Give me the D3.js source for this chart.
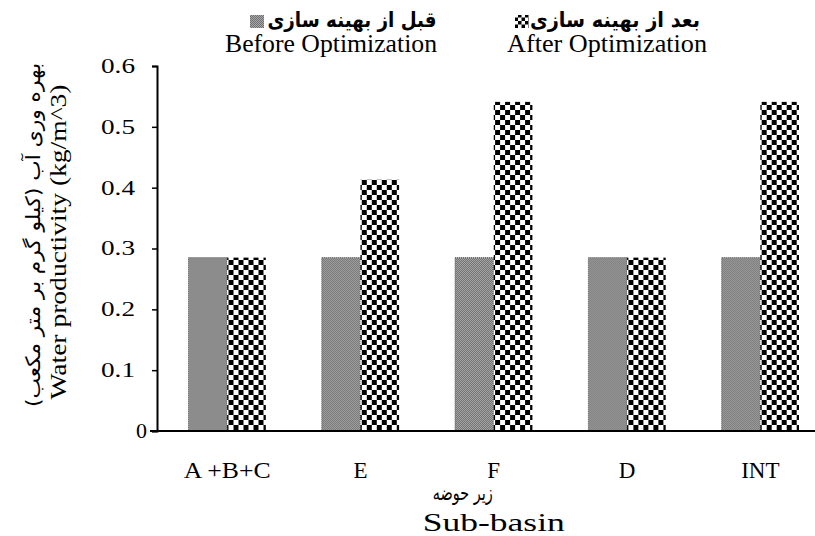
<!DOCTYPE html>
<html>
<head>
<meta charset="utf-8">
<script src="https://cdn.jsdelivr.net/npm/d3@7"></script>
<style>
  body { margin: 0; background: #fff; }
</style>
</head>
<body>
<div id="chart"></div>
<script>
const categories = ['A +B+C', 'E', 'F', 'D', 'INT'];
const beforeValues = [0.285, 0.285, 0.285, 0.285, 0.285];
const afterValues = [0.285, 0.413, 0.541, 0.285, 0.541];
const yTicks = [0, 0.1, 0.2, 0.3, 0.4, 0.5, 0.6];
const seriesNames = ['before', 'after'];

const width = 815;
const height = 536;
const SERIF = '"Liberation Serif", "Times New Roman", serif';
const FA = '"DejaVu Sans", sans-serif';

const svg = d3.select('#chart')
    .append('svg')
        .attr('width', width)
        .attr('height', height);

// fill patterns
const defs = svg.append('defs');
const grey = defs.append('pattern')
    .attr('id', 'greyFill')
    .attr('patternUnits', 'userSpaceOnUse')
    .attr('width', 2).attr('height', 2);
grey.append('rect').attr('width', 2).attr('height', 2).attr('fill', '#a8a8a8');
grey.append('rect').attr('width', 1).attr('height', 1).attr('fill', '#707070');
grey.append('rect').attr('x', 1).attr('y', 1).attr('width', 1).attr('height', 1).attr('fill', '#707070');

function checkerPattern(id, cell) {
    const p = defs.append('pattern')
        .attr('id', id)
        .attr('patternUnits', 'userSpaceOnUse')
        .attr('width', cell * 2).attr('height', cell * 2);
    p.append('rect').attr('width', cell * 2).attr('height', cell * 2).attr('fill', '#fff');
    p.append('rect').attr('width', cell).attr('height', cell).attr('fill', '#000');
    p.append('rect').attr('x', cell).attr('y', cell).attr('width', cell).attr('height', cell).attr('fill', '#000');
}
checkerPattern('checkFill', 5);
checkerPattern('checkSmall', 3.5);

const x = d3.scaleBand()
    .domain(categories)
    .range([160.5, 827])
    .paddingInner(0.42)
    .paddingOuter(0.21);

const xSub = d3.scaleBand()
    .domain(seriesNames)
    .range([0, x.bandwidth()]);

const y = d3.scaleLinear()
    .domain([0, 0.6])
    .range([431, 66]);

const fills = { before: 'url(#greyFill)', after: 'url(#checkFill)' };

const rows = categories.map((c, i) => ({
    cat: c,
    vals: [
        { key: 'before', v: beforeValues[i] },
        { key: 'after', v: afterValues[i] }
    ]
}));

const groups = svg.selectAll('g.grp')
    .data(rows)
    .enter()
    .append('g')
        .attr('class', 'grp')
        .attr('transform', d => `translate(${x(d.cat)},0)`);

groups.selectAll('rect')
    .data(d => d.vals)
    .enter()
    .append('rect')
        .attr('x', d => xSub(d.key))
        .attr('y', d => y(d.v))
        .attr('width', xSub.bandwidth())
        .attr('height', d => y(0) - y(d.v))
        .attr('fill', d => fills[d.key])
        .attr('stroke', d => d.key === 'before' ? '#555' : 'none')
        .attr('stroke-width', 1)
        .attr('stroke-dasharray', '1,1');

// y axis
const yAxis = d3.axisLeft(y)
    .tickValues(yTicks)
    .tickSize(5)
    .tickPadding(17)
    .tickFormat(d => d === 0 ? '0' : d3.format('.1f')(d));

const gy = svg.append('g')
    .attr('transform', 'translate(157,0)')
    .call(yAxis);
gy.select('.domain').attr('stroke', '#000').attr('stroke-width', 2);
gy.selectAll('.tick line').attr('stroke', '#000').attr('stroke-width', 1.5);
gy.selectAll('.tick text')
    .style('font-family', SERIF)
    .style('font-size', '20px')
    .attr('fill', '#000')
    .attr('dx', d => d === 0 ? 12 : 0)
    .attr('textLength', d => d === 0 ? 11 : 34)
    .attr('lengthAdjust', 'spacingAndGlyphs');

// x axis line
svg.append('line')
    .attr('x1', 150).attr('x2', width)
    .attr('y1', y(0)).attr('y2', y(0))
    .attr('stroke', '#000')
    .attr('stroke-width', 2);

// x labels
svg.selectAll('text.xlab')
    .data(categories)
    .enter()
    .append('text')
        .attr('class', 'xlab')
        .attr('x', d => x(d) + x.bandwidth() / 2)
        .attr('y', 478)
        .attr('text-anchor', 'middle')
        .style('font-family', SERIF)
        .style('font-size', '23px')
        .attr('textLength', d => d === 'A +B+C' ? 87 : null)
        .attr('lengthAdjust', 'spacingAndGlyphs')
        .text(d => d);

const midX = x('F') + x.bandwidth() / 2;
svg.append('text')
    .attr('x', midX - 31).attr('y', 500)
    .attr('text-anchor', 'middle')
    .style('font-family', FA)
    .style('font-size', '21px')
    .attr('textLength', 60)
    .attr('lengthAdjust', 'spacingAndGlyphs')
    .text('زیر حوضه');
svg.append('text')
    .attr('x', midX).attr('y', 531)
    .attr('text-anchor', 'middle')
    .style('font-family', SERIF)
    .style('font-size', '25px')
    .attr('textLength', 142)
    .attr('lengthAdjust', 'spacingAndGlyphs')
    .text('Sub-basin');

// y title
svg.append('text')
    .attr('transform', 'translate(40,235) rotate(-90)')
    .attr('text-anchor', 'middle')
    .style('font-family', FA)
    .style('font-size', '20px')
    .attr('textLength', 344)
    .attr('lengthAdjust', 'spacingAndGlyphs')
    .text('بهره وری آب (کیلو گرم بر متر مکعب)');
svg.append('text')
    .attr('transform', 'translate(66,242) rotate(-90)')
    .attr('text-anchor', 'middle')
    .style('font-family', SERIF)
    .style('font-size', '24px')
    .attr('textLength', 315)
    .attr('lengthAdjust', 'spacingAndGlyphs')
    .text('Water productivity (kg/m^3)');

// legend
const legend = [
    { fill: 'url(#greyFill)', fa: 'قبل از بهینه سازی', en: 'Before Optimization', box: 250, faX: 352, faW: 169, enX: 331, enW: 212 },
    { fill: 'url(#checkSmall)', fa: 'بعد از بهینه سازی', en: 'After Optimization', box: 515, faX: 615, faW: 170, enX: 607, enW: 200 }
];
const lg = svg.selectAll('g.leg')
    .data(legend)
    .enter()
    .append('g')
        .attr('class', 'leg');
lg.append('rect')
    .attr('x', d => d.box).attr('y', 15)
    .attr('width', 14).attr('height', 13)
    .attr('fill', d => d.fill);
lg.append('text')
    .attr('x', d => d.faX).attr('y', 27)
    .attr('text-anchor', 'middle')
    .style('font-family', FA)
    .style('font-size', '21px')
    .style('font-weight', 'bold')
    .attr('textLength', d => d.faW)
    .attr('lengthAdjust', 'spacingAndGlyphs')
    .text(d => d.fa);
lg.append('text')
    .attr('x', d => d.enX).attr('y', 52)
    .attr('text-anchor', 'middle')
    .style('font-family', SERIF)
    .style('font-size', '25px')
    .attr('textLength', d => d.enW)
    .attr('lengthAdjust', 'spacingAndGlyphs')
    .text(d => d.en);
</script>
</body>
</html>
